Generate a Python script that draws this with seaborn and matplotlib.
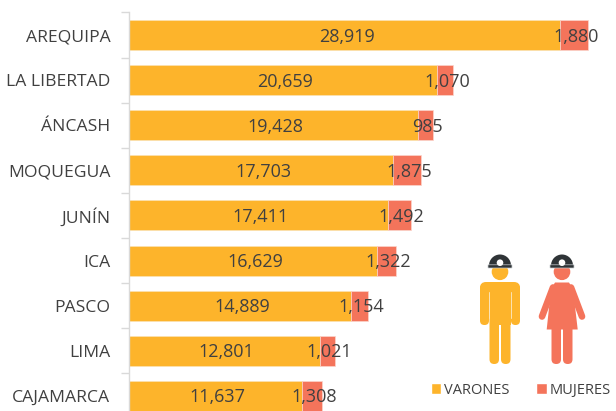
import matplotlib
matplotlib.use("Agg")
import matplotlib.pyplot as plt
import seaborn as sns
from matplotlib.patches import Circle, FancyBboxPatch, Polygon, Wedge, Patch
from matplotlib.lines import Line2D

regiones = ["AREQUIPA", "LA LIBERTAD", "ÁNCASH", "MOQUEGUA", "JUNÍN", "ICA", "PASCO", "LIMA", "CAJAMARCA"]
varones = [28919, 20659, 19428, 17703, 17411, 16629, 14889, 12801, 11637]
mujeres = [1880, 1070, 985, 1875, 1492, 1322, 1154, 1021, 1308]
series = ["VARONES", "MUJERES"]

AMBER = "#FDB42B"
CORAL = "#F4745B"
TXT = "#404040"
W, H = 616, 411
sns.set_style("white")
plt.rcParams["font.family"] = ["Open Sans", "DejaVu Sans"]

fig = plt.figure(figsize=(W / 100, H / 100), dpi=100)
ax = fig.add_axes([129 / W, 0, (W - 129) / W, (H - 12.5) / H])

sns.barplot(x=varones, y=regiones, color=AMBER, saturation=1, width=0.665, ax=ax,
            edgecolor="#FBE3B4", linewidth=0.5)
sns.barplot(x=mujeres, y=regiones, color=CORAL, saturation=1, width=0.665, ax=ax,
            left=varones, edgecolor="#FBD5CC", linewidth=0.5)

for c in ax.containers:
    for t in ax.bar_label(c, fmt="{:,.0f}", label_type="center", fontsize=13, color=TXT):
        t.xyann = (1.5, -1.2)

ax.set_xlabel("")
ax.set_ylabel("")
ax.xaxis.set_visible(False)
for s in ["top", "right", "bottom"]:
    ax.spines[s].set_visible(False)
ax.spines["left"].set_color("#D9D9D9")
ax.spines["left"].set_linewidth(1)
ax.set_yticks(range(len(regiones)), regiones)
ax.tick_params(axis="y", which="major", length=0, pad=13.4, labelsize=12.6, labelcolor=TXT)
ax.set_yticks([i - 0.5 for i in range(len(regiones) + 1)], minor=True)
ax.tick_params(axis="y", which="minor", length=5.5, width=1, color="#D9D9D9", left=True)
ax.set_xlim(0, (W - 129) / 0.0149)
ax.set_ylim(8.337, -0.5)

# Legend
handles = [Patch(facecolor=AMBER, label=series[0]), Patch(facecolor=CORAL, label=series[1])]
fig.legend(handles=handles, loc="center left", bbox_to_anchor=(430.5 / W, 1 - 390 / H),
           bbox_transform=fig.transFigure, ncols=2, frameon=False, fontsize=10.5,
           labelcolor=TXT, handlelength=0.72, handleheight=0.72, handletextpad=0.2,
           columnspacing=1.85, borderpad=0, borderaxespad=0)

# Pictogram overlay in pixel space
ov = fig.add_axes([0, 0, 1, 1], facecolor="none")
ov.set_xlim(0, W)
ov.set_ylim(H, 0)
ov.axis("off")


def rbox(x0, y0, x1, y1, r, col):
    ov.add_patch(FancyBboxPatch((x0 + r, y0 + r), x1 - x0 - 2 * r, y1 - y0 - 2 * r,
                                boxstyle=f"round,pad={r}", fc=col, ec="none"))


def head(cx, col):
    ov.add_patch(Circle((cx, 271.8), 8.3, fc=col, ec="none"))
    ov.add_patch(Wedge((cx, 265.5), 11, 180, 360, fc="#2F3437", ec="none"))
    ov.add_patch(FancyBboxPatch((cx - 11.5, 265.3), 23, 2.2, boxstyle="round,pad=0.5",
                                fc="#2F3437", ec="#C9CDD0", lw=0.5))
    ov.add_patch(Circle((cx, 262.7), 3.3, fc="white", ec="none"))


# Man
head(500, AMBER)
rbox(480, 282, 520, 300, 6, AMBER)
rbox(480, 284, 489, 325, 4.4, AMBER)
rbox(511, 284, 520, 325, 4.4, AMBER)
ov.add_patch(Polygon([(490, 284), (510.5, 284), (510.5, 325), (490, 325)], fc=AMBER, ec="none"))
rbox(489.5, 310, 499, 364, 4.7, AMBER)
rbox(501, 310, 510.5, 364, 4.7, AMBER)
ov.add_line(Line2D([489.3, 489.3], [292, 318], color="#FBE3B4", lw=0.7))
ov.add_line(Line2D([510.7, 510.7], [292, 318], color="#FBE3B4", lw=0.7))

# Woman
head(562, CORAL)
ov.add_patch(Polygon([(555, 282.5), (569, 282.5), (573, 289), (577.7, 329.5), (546.7, 329.5), (551, 289)],
                     fc=CORAL, ec="none"))
ov.add_line(Line2D([553, 542], [287.5, 316.5], color=CORAL, lw=4.8, solid_capstyle="round"))
ov.add_line(Line2D([571, 582], [287.5, 316.5], color=CORAL, lw=4.8, solid_capstyle="round"))
rbox(551.5, 320, 561, 364, 4.7, CORAL)
rbox(563, 320, 572.5, 364, 4.7, CORAL)

fig.savefig("out.png", dpi=100)
